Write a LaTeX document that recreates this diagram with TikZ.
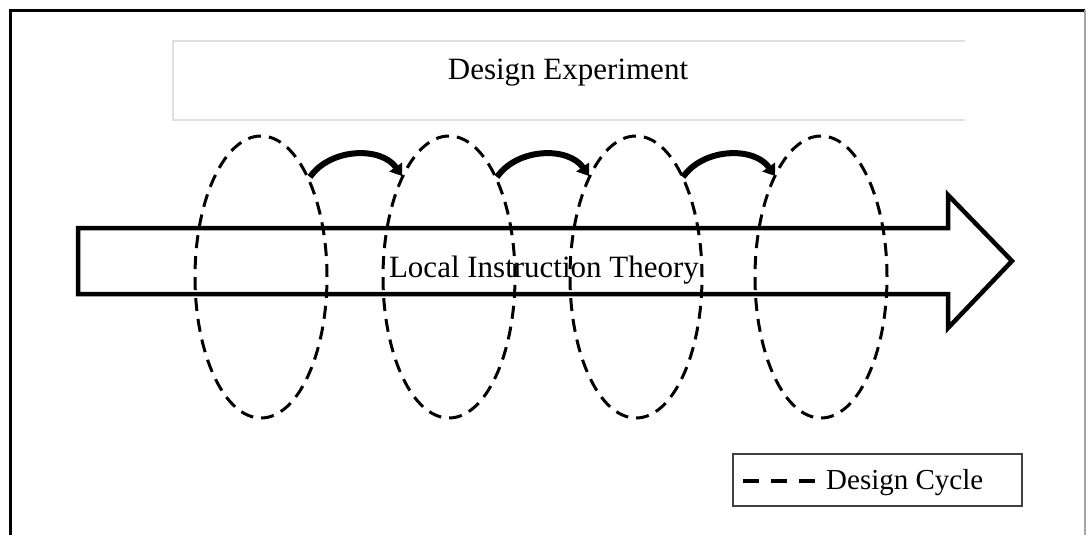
\documentclass[tikz,border=0pt]{standalone}
\usepackage{fontspec}
\setmainfont{Liberation Serif}
\usetikzlibrary{arrows.meta}
\begin{document}
\begin{tikzpicture}[x=1pt,y=-1pt,
  cycle/.style={draw=black,line width=3pt,dash pattern=on 13pt off 8pt},
  hop/.style={draw=black,line width=6pt,-{Triangle[length=11pt,width=15pt]}},
  bigtext/.style={font=\fontsize{31}{36}\selectfont,inner sep=0pt},
  legtext/.style={font=\fontsize{29}{34}\selectfont,inner sep=0pt}]
\useasboundingbox (0,0) rectangle (1088,535);
% frame
\draw[line width=3pt,black] (10.5,535) -- (10.5,10.5) -- (1085,10.5);
\draw[line width=1.2pt,gray!70] (1085,10.5) -- (1085,535);
% top box
\draw[line width=1.8pt,black!12] (965,41) -- (173,41) -- (173,120) -- (965,120);
\node[bigtext] (de) at (568,73) {Design Experiment};
% big arrow
\draw[line width=4.5pt,fill=white,line join=miter]
  (78,228) -- (948,228) -- (948,195) -- (1012,261) -- (948,328) -- (948,294) -- (78,294) -- cycle;
\node[bigtext] (lit) at (544,270) {Local Instruction Theory};
% cycles
\foreach \i/\cx in {1/261,2/449,3/636,4/821}{
  \draw[cycle] (\cx,277) ellipse [x radius=66pt, y radius=141pt];
  \coordinate (c\i) at (\cx,277);
}
% hops
\coordinate (h1a) at (310,177); \coordinate (h1b) at (402,176);
\coordinate (h2a) at (497,177); \coordinate (h2b) at (589,176);
\coordinate (h3a) at (683,177); \coordinate (h3b) at (775,176);
\draw[hop] (h1a) to[out=55,in=125] (h1b);
\draw[hop] (h2a) to[out=55,in=125] (h2b);
\draw[hop] (h3a) to[out=55,in=125] (h3b);
% legend
\node[draw=black!75,line width=1.6pt,minimum width=289pt,minimum height=52pt,inner sep=0pt] (leg) at (877.5,480) {};
\coordinate (la) at (743,481); \coordinate (lb) at (816,481);
\draw[line width=3.5pt,dash pattern=on 16pt off 12pt] (la) -- (lb);
\node[legtext,anchor=west] (lt) at (826,483) {Design Cycle};
\end{tikzpicture}
\end{document}
